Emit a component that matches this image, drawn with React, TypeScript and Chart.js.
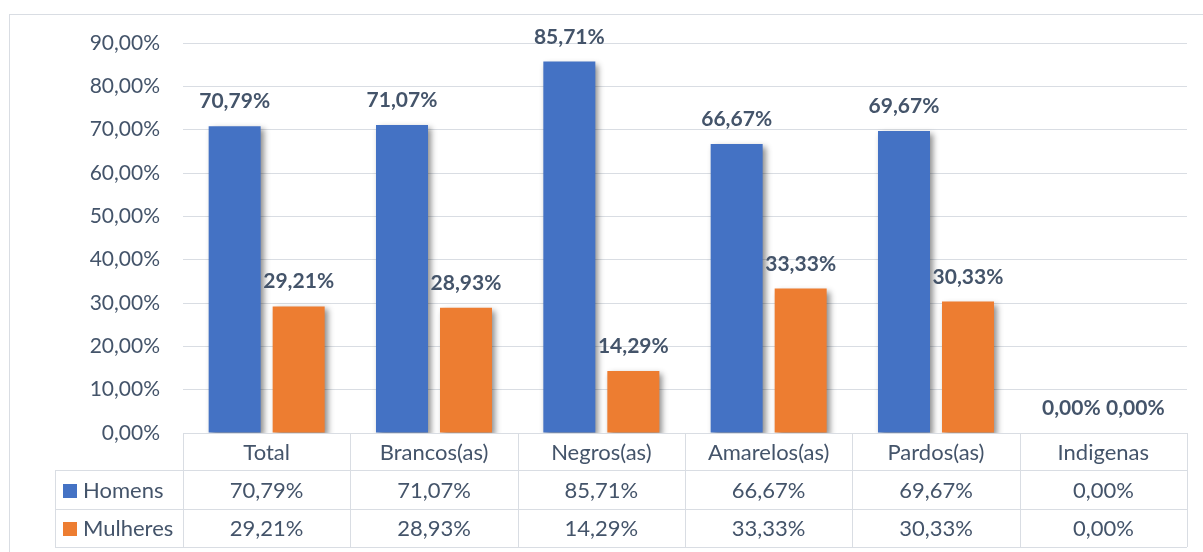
import React, { useEffect, useRef } from 'react';
import { Chart, registerables } from 'chart.js';

Chart.register(...registerables);

const categories = ['Total', 'Brancos(as)', 'Negros(as)', 'Amarelos(as)', 'Pardos(as)', 'Indigenas'];
const seriesNames = ['Homens', 'Mulheres'];
const homens = [70.79, 71.07, 85.71, 66.67, 69.67, 0];
const mulheres = [29.21, 28.93, 14.29, 33.33, 30.33, 0];
const seriesColors = ['#4472C4', '#ED7D31'];
const yMin = 0;
const yMax = 90;
const yStep = 10;

const TEXT = '#44546A';
const LINE = '#D9DDE3';
const FONT = 'Lato';

const fmt = (v: number) => v.toFixed(2).replace('.', ',') + '%';

const shadowPlugin = {
  id: 'barShadow',
  beforeDatasetDraw(chart: any) {
    const ctx = chart.ctx;
    ctx.save();
    ctx.shadowColor = 'rgba(0,0,0,0.45)';
    ctx.shadowBlur = 6;
    ctx.shadowOffsetX = 3;
    ctx.shadowOffsetY = 3;
  },
  afterDatasetDraw(chart: any) {
    chart.ctx.restore();
  },
};

const labelsPlugin = {
  id: 'barLabels',
  afterDatasetsDraw(chart: any) {
    const ctx = chart.ctx;
    ctx.save();
    ctx.font = `bold 21px ${FONT}`;
    ctx.fillStyle = TEXT;
    ctx.textAlign = 'center';
    ctx.textBaseline = 'alphabetic';
    chart.data.datasets.forEach((ds: any, di: number) => {
      const meta = chart.getDatasetMeta(di);
      meta.data.forEach((el: any, i: number) => {
        ctx.fillText(fmt(ds.data[i]), el.x, el.y - 18);
      });
    });
    ctx.restore();
  },
};

const tablePlugin = {
  id: 'dataTable',
  beforeDraw(chart: any) {
    const ctx = chart.ctx;
    ctx.save();
    ctx.strokeStyle = LINE;
    ctx.lineWidth = 1;
    ctx.strokeRect(9.5, 14.5, chart.width + 10, chart.height + 10);
    ctx.restore();
  },
  afterDraw(chart: any) {
    const ctx = chart.ctx;
    const area = chart.chartArea;
    const xs = chart.scales.x;
    const n = categories.length;
    const colW = (area.right - area.left) / n;
    const top = area.bottom;
    const legendLeft = 55;
    const rows = [top, top + 37, top + 76, top + 114];
    ctx.save();
    ctx.strokeStyle = LINE;
    ctx.lineWidth = 1;
    ctx.beginPath();
    ctx.moveTo(area.left, Math.round(rows[0]) + 0.5);
    ctx.lineTo(area.right, Math.round(rows[0]) + 0.5);
    for (let r = 1; r < rows.length; r++) {
      ctx.moveTo(legendLeft, Math.round(rows[r]) + 0.5);
      ctx.lineTo(area.right, Math.round(rows[r]) + 0.5);
    }
    ctx.moveTo(legendLeft + 0.5, rows[1]);
    ctx.lineTo(legendLeft + 0.5, rows[3]);
    for (let i = 0; i <= n; i++) {
      const x = Math.round(area.left + i * colW) + 0.5;
      ctx.moveTo(x, rows[0]);
      ctx.lineTo(x, rows[3]);
    }
    ctx.stroke();

    ctx.fillStyle = TEXT;
    ctx.font = `22px ${FONT}`;
    ctx.textAlign = 'center';
    ctx.textBaseline = 'middle';
    categories.forEach((c, i) => {
      const cx = xs.getPixelForValue(i);
      ctx.fillText(c, cx, (rows[0] + rows[1]) / 2 + 1);
    });
    const series = [homens, mulheres];
    series.forEach((vals, s) => {
      const cy = (rows[s + 1] + rows[s + 2]) / 2 + 1;
      vals.forEach((v, i) => {
        const cx = xs.getPixelForValue(i);
        ctx.fillText(fmt(v), cx, cy);
      });
      ctx.fillStyle = seriesColors[s];
      ctx.fillRect(63, Math.round(cy - 7), 14, 14);
      ctx.fillStyle = TEXT;
      ctx.textAlign = 'left';
      ctx.fillText(seriesNames[s], 83, cy);
      ctx.textAlign = 'center';
    });
    ctx.restore();
  },
};

export default function App() {
  const ref = useRef<HTMLCanvasElement | null>(null);

  useEffect(() => {
    if (!ref.current) return;
    const chart = new Chart(ref.current, {
      type: 'bar',
      data: {
        labels: categories,
        datasets: [
          {
            label: seriesNames[0],
            data: homens,
            backgroundColor: seriesColors[0],
            categoryPercentage: 0.765,
            barPercentage: 0.8125,
          },
          {
            label: seriesNames[1],
            data: mulheres,
            backgroundColor: seriesColors[1],
            categoryPercentage: 0.765,
            barPercentage: 0.8125,
          },
        ],
      },
      options: {
        responsive: false,
        animation: false,
        layout: { padding: { top: 43, right: 16, bottom: 119, left: 0 } },
        plugins: {
          legend: { display: false },
          tooltip: { enabled: false },
        },
        scales: {
          x: { display: false },
          y: {
            min: yMin,
            max: yMax,
            afterFit(scale: any) {
              scale.width = 183;
            },
            border: { display: false },
            grid: { color: LINE, drawTicks: false, lineWidth: 1 },
            ticks: {
              stepSize: yStep,
              padding: 23,
              color: TEXT,
              font: { family: FONT, size: 21 },
              callback: (v: any) => fmt(Number(v)),
            },
          },
        },
      },
      plugins: [shadowPlugin, labelsPlugin, tablePlugin],
    });
    return () => chart.destroy();
  }, []);

  return (
    <div style={{ position: 'absolute', left: 0, top: 0, width: 1203, height: 552, background: '#fff' }}>
      <canvas ref={ref} width={1203} height={552} />
    </div>
  );
}
